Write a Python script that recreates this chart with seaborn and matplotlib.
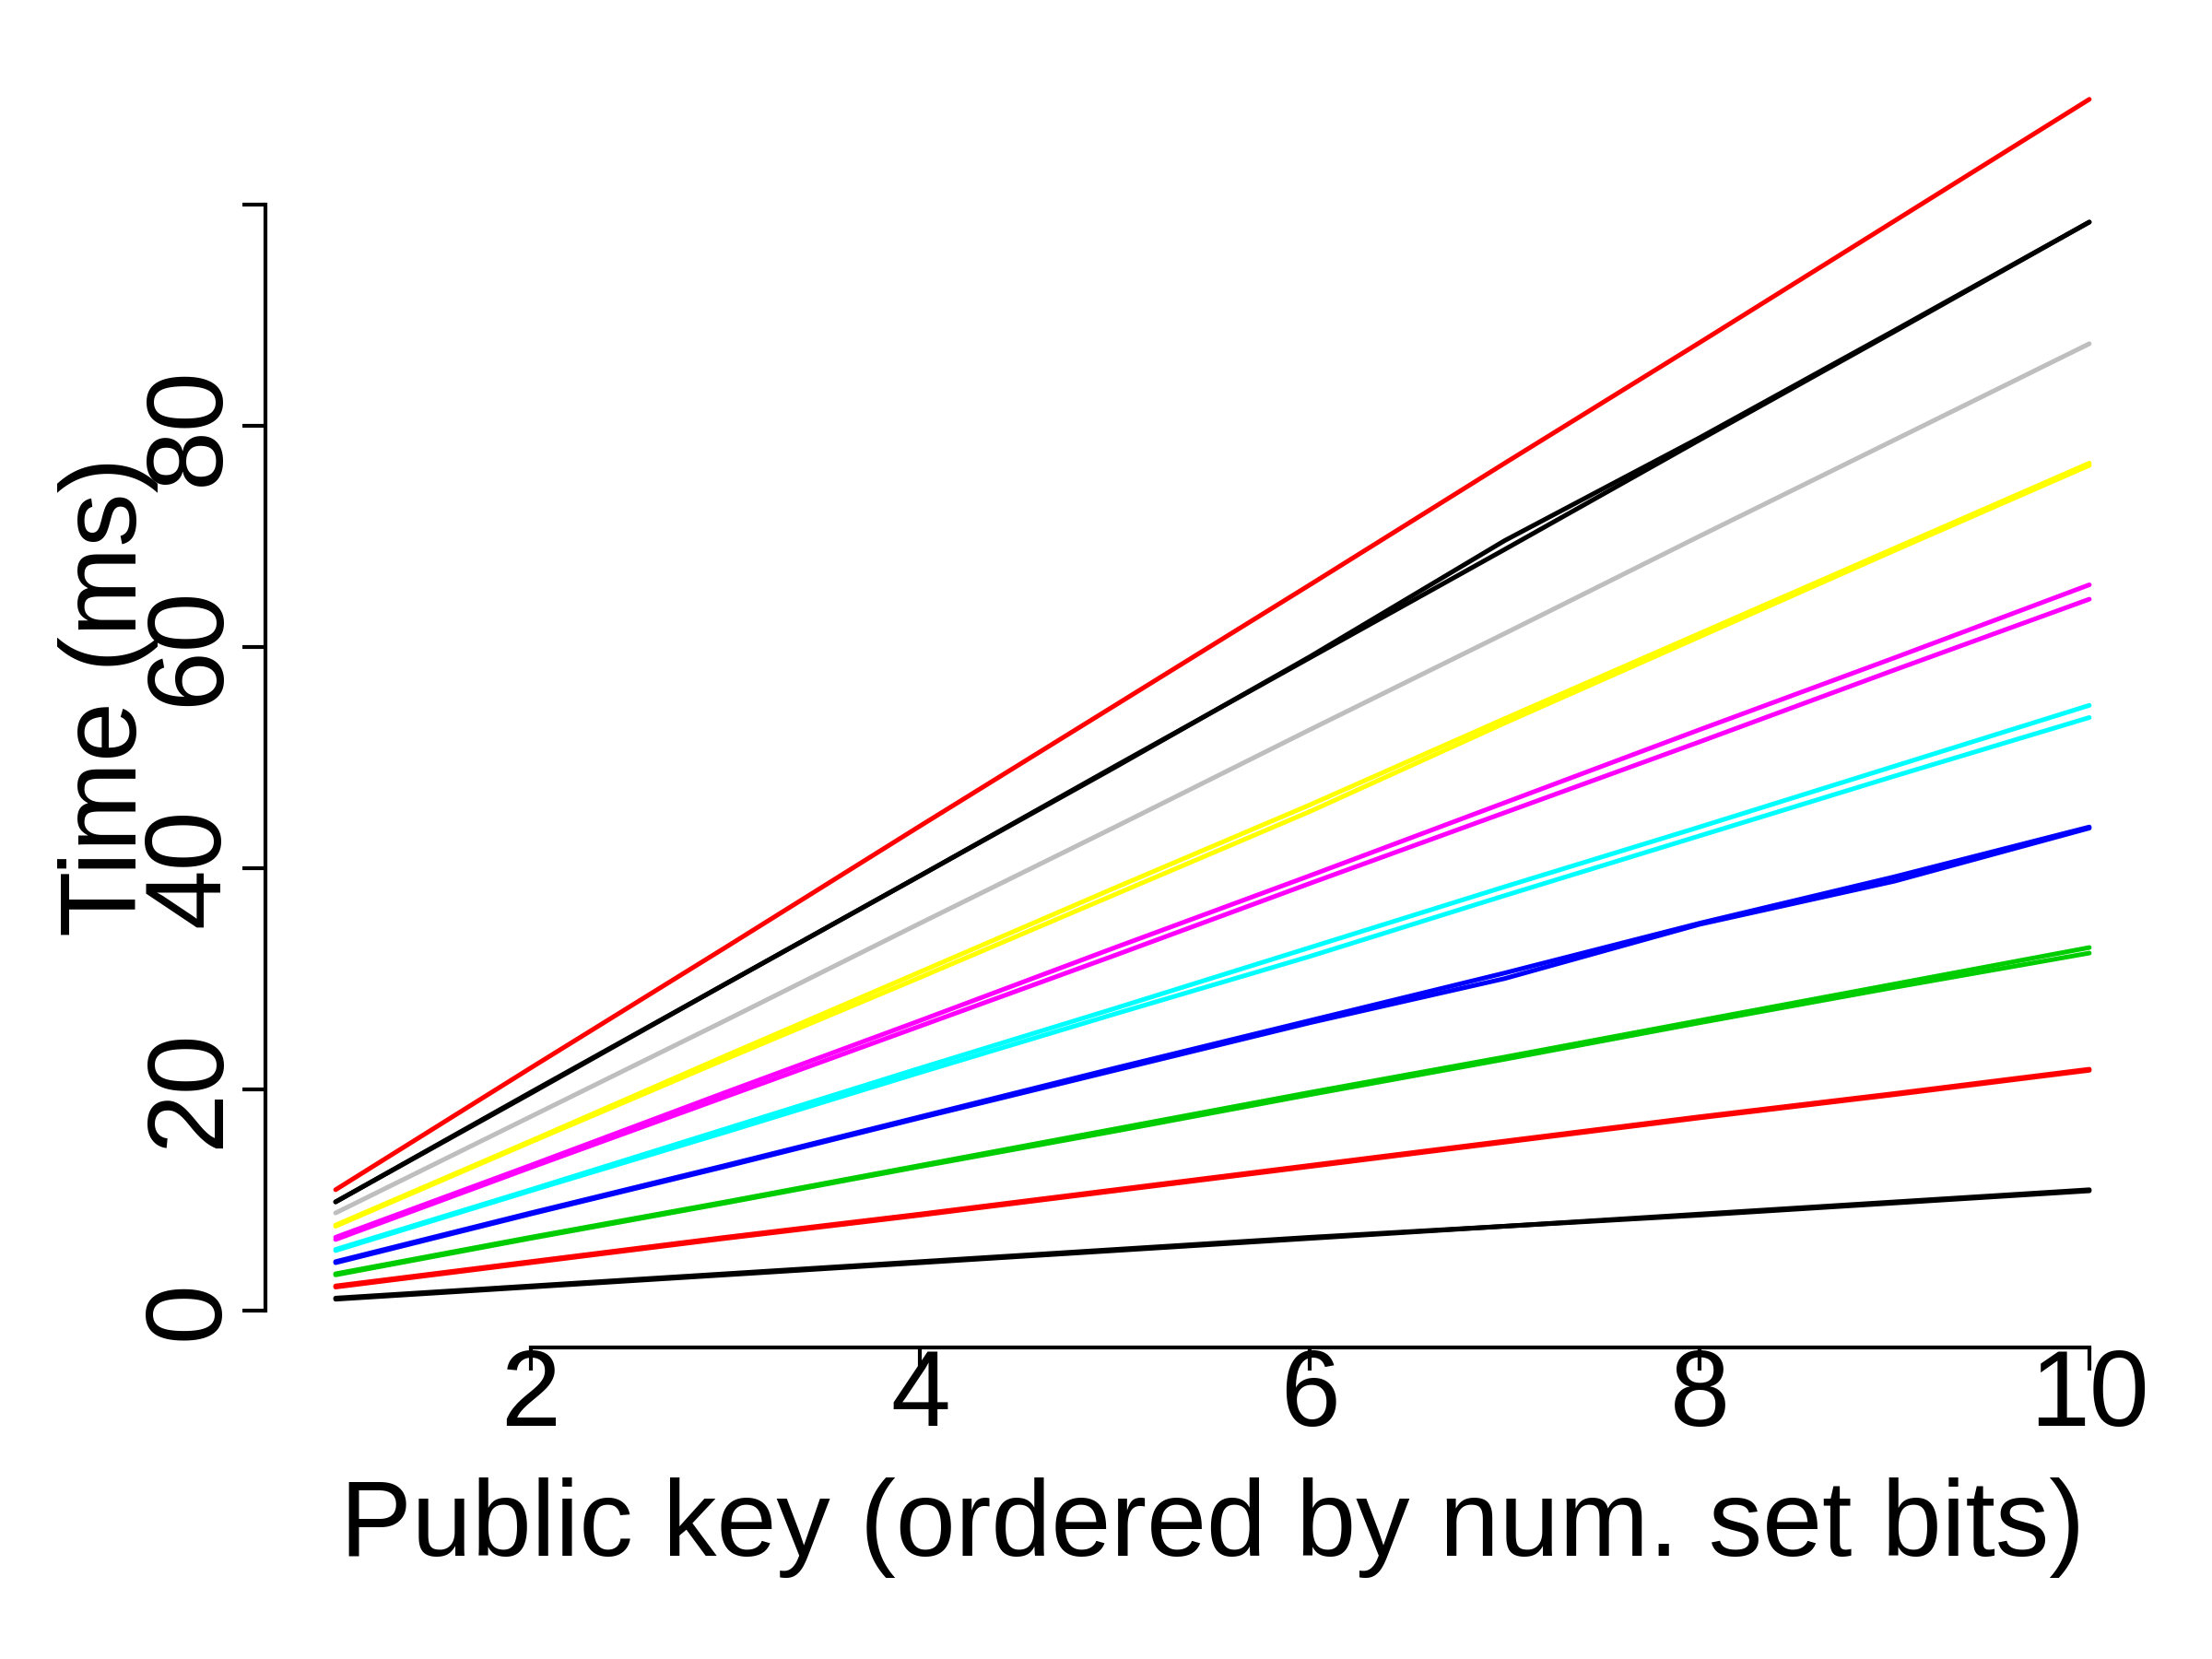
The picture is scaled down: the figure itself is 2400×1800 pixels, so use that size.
import seaborn as sns
import matplotlib.pyplot as plt
import pandas as pd

# x positions: public keys ordered by number of set bits
keys = [1, 2, 3, 4, 5, 6, 7, 8, 9, 10]

# timing runs (ms), two runs per curve group
g1_a = [1.0, 2.1, 3.2, 4.3, 5.4, 6.5, 7.6, 8.7, 9.8, 10.9]
g1_b = [1.1, 2.2, 3.3, 4.4, 5.5, 6.6, 7.6, 8.6, 9.7, 10.8]
g2_a = [2.2, 4.4, 6.6, 8.7, 10.9, 13.1, 15.3, 17.5, 19.6, 21.8]
g2_b = [2.1, 4.3, 6.5, 8.6, 10.8, 13.0, 15.2, 17.4, 19.5, 21.7]
g3_a = [3.3, 6.6, 9.8, 13.1, 16.4, 19.7, 22.9, 26.2, 29.5, 32.8]
g3_b = [3.2, 6.5, 9.7, 13.0, 16.2, 19.5, 22.7, 26.0, 29.2, 32.3]
g4_a = [4.4, 8.8, 13.1, 17.5, 21.9, 26.2, 30.5, 35.0, 39.2, 43.7]
g4_b = [4.3, 8.7, 13.0, 17.4, 21.7, 26.0, 30.0, 34.9, 38.8, 43.6]
g5_a = [5.5, 10.9, 16.4, 21.9, 27.3, 32.8, 38.3, 43.7, 49.2, 54.7]
g5_b = [5.4, 10.8, 16.1, 21.5, 26.8, 32.0, 37.5, 42.9, 48.3, 53.6]
g6_a = [6.6, 13.1, 19.7, 26.2, 32.8, 39.3, 45.9, 52.5, 59.0, 65.6]
g6_b = [6.4, 12.9, 19.3, 25.7, 32.1, 38.6, 45.0, 51.4, 57.9, 64.3]
g7_a = [7.7, 15.3, 23.0, 30.6, 38.2, 45.7, 53.5, 61.2, 68.9, 76.6]
g7_b = [7.6, 15.2, 22.7, 30.1, 37.6, 45.1, 53.1, 60.9, 68.7, 76.4]
g8_a = [8.8, 17.5, 26.2, 35.0, 43.7, 52.5, 61.2, 70.0, 78.7, 87.4]
g9_a = [9.8, 19.7, 29.5, 39.3, 49.2, 59.0, 68.8, 78.7, 88.5, 98.4]
g9_b = [9.8, 19.6, 29.5, 39.3, 49.1, 59.1, 69.6, 78.9, 88.6, 98.4]
g10_a = [10.9, 21.9, 32.8, 43.8, 54.7, 65.6, 76.6, 87.5, 98.5, 109.5]

runs = {
    "g1_a": g1_a, "g1_b": g1_b, "g2_a": g2_a, "g2_b": g2_b,
    "g3_a": g3_a, "g3_b": g3_b, "g4_a": g4_a, "g4_b": g4_b,
    "g5_a": g5_a, "g5_b": g5_b, "g6_a": g6_a, "g6_b": g6_b,
    "g7_a": g7_a, "g7_b": g7_b, "g8_a": g8_a,
    "g9_a": g9_a, "g9_b": g9_b, "g10_a": g10_a,
}

# R default palette, recycled for groups 9 and 10
group_colors = {
    "g1": "#000000", "g2": "#FF0000", "g3": "#00CD00", "g4": "#0000FF",
    "g5": "#00FFFF", "g6": "#FF00FF", "g7": "#FFFF00", "g8": "#BEBEBE",
    "g9": "#000000", "g10": "#FF0000",
}

y_ticks = [0, 20, 40, 60, 80, 100]
y_ticklabels = ["0", "20", "40", "60", "80", ""]
x_ticks = [2, 4, 6, 8, 10]

rows = []
for name, vals in runs.items():
    for k, v in zip(keys, vals):
        rows.append({"key": k, "time": v, "run": name})
df = pd.DataFrame(rows)
palette = {name: group_colors[name.split("_")[0]] for name in runs}

sns.set_style("white")
plt.rcParams["font.family"] = ["Liberation Sans", "DejaVu Sans"]
plt.rcParams["text.color"] = "black"
plt.rcParams["axes.labelcolor"] = "black"
plt.rcParams["xtick.color"] = "black"
plt.rcParams["ytick.color"] = "black"

fig = plt.figure(figsize=(8, 6), dpi=300)
ax = fig.add_axes([0.12, 0.1878, 0.85625, 0.785])

sns.lineplot(data=df, x="key", y="time", hue="run", palette=palette,
             legend=False, errorbar=None, linewidth=1.2,
             solid_capstyle="round", ax=ax)

ax.set_xlim(0.64, 10.36)
ax.set_ylim(-3.36, 114.4)

for side in ["top", "right"]:
    ax.spines[side].set_visible(False)
ax.spines["left"].set_bounds(0, 100)
ax.spines["bottom"].set_bounds(2, 10)
for side in ["left", "bottom"]:
    ax.spines[side].set_linewidth(1.0)
    ax.spines[side].set_color("black")

ax.set_yticks(y_ticks)
ax.set_yticklabels(y_ticklabels, rotation=90, va="center")
ax.set_xticks(x_ticks)
ax.set_xticklabels([str(t) for t in x_ticks])
ax.tick_params(axis="both", direction="out", length=6, width=1.0,
               colors="black", labelcolor="black", labelsize=28,
               left=True, bottom=True)
ax.tick_params(axis="y", pad=0.5)
ax.tick_params(axis="x", pad=-6)

ax.set_xlabel("Public key (ordered by num. set bits)", fontsize=28, color="black")
ax.set_ylabel("Time (ms)", fontsize=28, color="black")
ax.xaxis.label.set_va("baseline")
ax.xaxis.set_label_coords(0.5, -0.16)
ax.yaxis.label.set_va("baseline")
ax.yaxis.set_label_coords(-0.068, 0.5)

plt.savefig("out.png", dpi=300)
